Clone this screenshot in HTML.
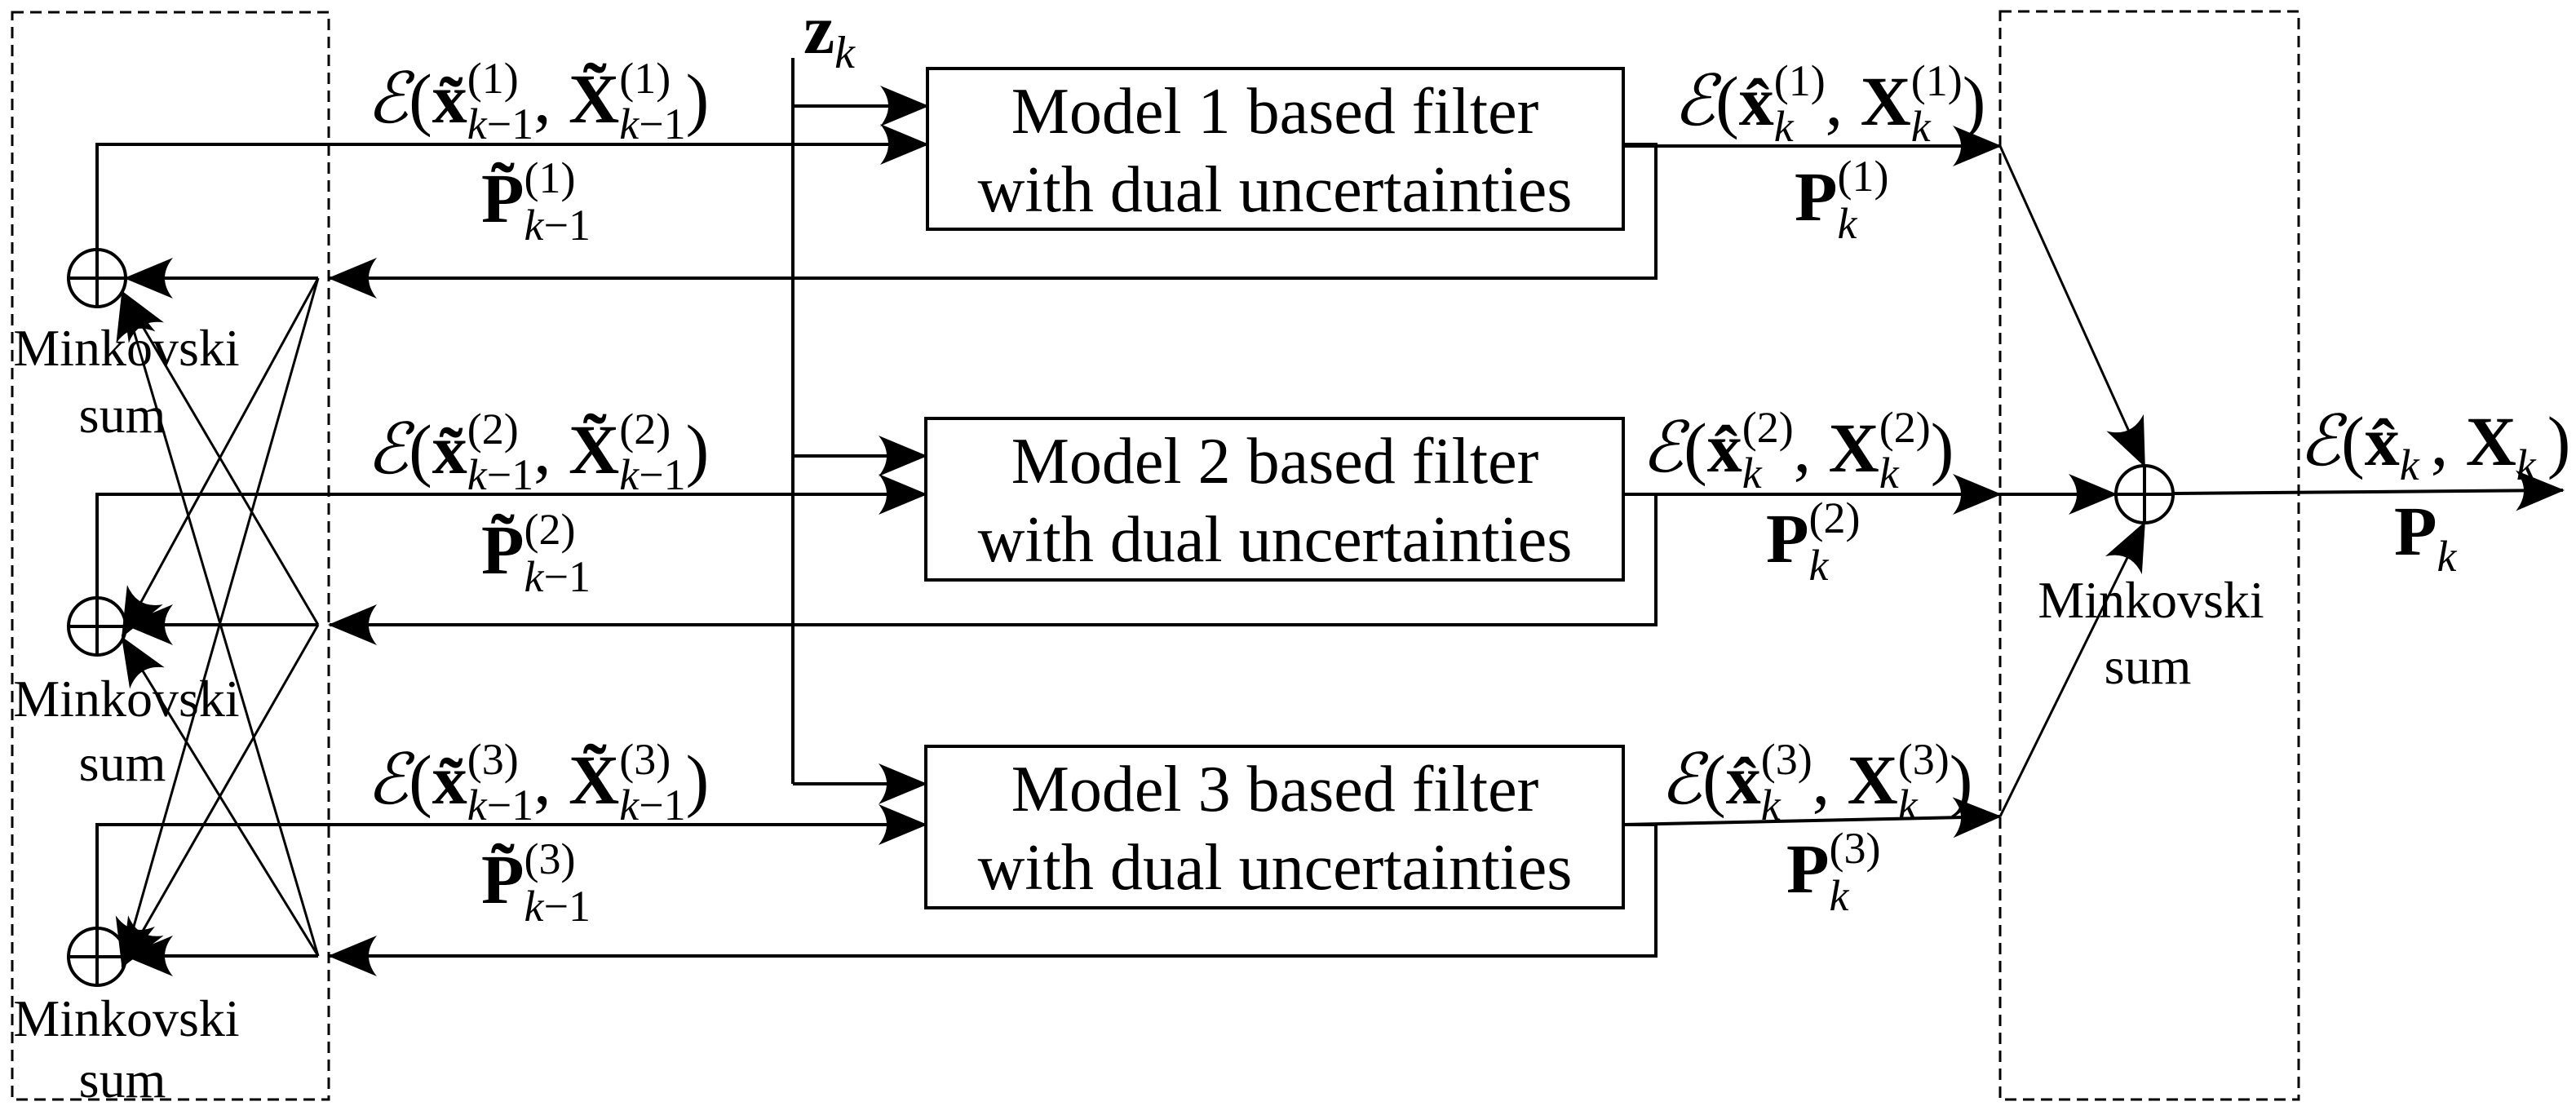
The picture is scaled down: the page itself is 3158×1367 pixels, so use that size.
<!DOCTYPE html>
<html><head><meta charset="utf-8"><style>
html,body{margin:0;padding:0;background:#fff}
svg{display:block}
text{font-family:"Liberation Serif",serif;fill:#000}
.b{font-weight:bold}
.i{font-style:italic}
</style></head><body>
<svg width="3158" height="1367" viewBox="0 0 3158 1367" xmlns="http://www.w3.org/2000/svg">
<defs>
<marker id="a" markerUnits="userSpaceOnUse" viewBox="0 0 60 50" markerWidth="60" markerHeight="50" refX="58" refY="25" orient="auto">
<path d="M0,0 Q20,25 0,50 L60,25 Z" fill="#000"/>
</marker>
</defs>
<g fill="none" stroke="#000" stroke-width="3" stroke-dasharray="14,8">
<rect x="15" y="15" width="388" height="1333"/>
<rect x="2452" y="14" width="366" height="1334"/>
</g>
<g fill="none" stroke="#000" stroke-width="4">
<rect x="1137" y="84" width="853" height="197"/>
<rect x="1135" y="513" width="855" height="198"/>
<rect x="1135" y="915" width="855" height="198"/>
<line x1="972" y1="71" x2="972" y2="961"/>
<line x1="972" y1="130" x2="1137" y2="130" marker-end="url(#a)"/>
<line x1="972" y1="559" x2="1135" y2="559" marker-end="url(#a)"/>
<line x1="972" y1="961" x2="1135" y2="961" marker-end="url(#a)"/>
<polyline points="119,305 119,177 1137,177" marker-end="url(#a)"/>
<polyline points="119,733 119,606 1135,606" marker-end="url(#a)"/>
<polyline points="119,1138 119,1011 1135,1011" marker-end="url(#a)"/>
<polyline points="1990,177 2030,177 2030,341 404,341" marker-end="url(#a)"/>
<polyline points="1990,606 2030,606 2030,766 404,766" marker-end="url(#a)"/>
<polyline points="1990,1011 2030,1011 2030,1172 404,1172" marker-end="url(#a)"/>
<line x1="390" y1="341" x2="154" y2="341" marker-end="url(#a)"/>
<line x1="390" y1="766" x2="154" y2="766" marker-end="url(#a)"/>
<line x1="390" y1="1172" x2="154" y2="1172" marker-end="url(#a)"/>
<circle cx="119" cy="341" r="35"/><line x1="84" y1="341" x2="154" y2="341"/><line x1="119" y1="306" x2="119" y2="376"/>
<circle cx="119" cy="768" r="35"/><line x1="84" y1="768" x2="154" y2="768"/><line x1="119" y1="733" x2="119" y2="803"/>
<circle cx="119" cy="1173" r="35"/><line x1="84" y1="1173" x2="154" y2="1173"/><line x1="119" y1="1138" x2="119" y2="1208"/>
<line x1="1990" y1="179" x2="2452" y2="179" marker-end="url(#a)"/>
<line x1="1990" y1="606" x2="2452" y2="606" marker-end="url(#a)"/>
<line x1="1990" y1="1011" x2="2452" y2="1001" marker-end="url(#a)"/>
<line x1="2452" y1="606" x2="2594" y2="606" marker-end="url(#a)"/>
<circle cx="2629" cy="606" r="35"/><line x1="2594" y1="606" x2="2664" y2="606"/><line x1="2629" y1="571" x2="2629" y2="641"/>
<line x1="2664" y1="605" x2="3142" y2="601" marker-end="url(#a)"/>
</g>
<g fill="none" stroke="#000" stroke-width="3">
<line x1="2452" y1="179" x2="2629" y2="571" marker-end="url(#a)"/>
<line x1="2452" y1="1001" x2="2629" y2="641" marker-end="url(#a)"/>
<line x1="390" y1="341" x2="150" y2="780" marker-end="url(#a)"/>
<line x1="390" y1="341" x2="150" y2="1185" marker-end="url(#a)"/>
<line x1="390" y1="766" x2="150" y2="358" marker-end="url(#a)"/>
<line x1="390" y1="766" x2="150" y2="1185" marker-end="url(#a)"/>
<line x1="390" y1="1172" x2="150" y2="358" marker-end="url(#a)"/>
<line x1="390" y1="1172" x2="150" y2="782" marker-end="url(#a)"/>
</g>
<g font-size="80" text-anchor="middle">
<text x="1563" y="163">Model 1 based filter</text>
<text x="1563" y="259">with dual uncertainties</text>
<text x="1563" y="592">Model 2 based filter</text>
<text x="1563" y="688">with dual uncertainties</text>
<text x="1563" y="994">Model 3 based filter</text>
<text x="1563" y="1090">with dual uncertainties</text>
</g>
<g font-size="64" text-anchor="middle">
<text x="155" y="448">Minkovski</text><text x="150" y="530">sum</text>
<text x="155" y="878">Minkovski</text><text x="150" y="957">sum</text>
<text x="155" y="1270">Minkovski</text><text x="150" y="1345">sum</text>
<text x="2637" y="757">Minkovski</text><text x="2633" y="838">sum</text>
</g>
<g font-size="86">
<text x="985" y="65" class="b">z<tspan class="i" font-weight="normal" font-size="56" dy="18">k</tspan></text>

<text x="449" y="150"><tspan class="i">ℰ</tspan>(<tspan class="b">x̃</tspan><tspan font-size="54" dy="-36">(1)</tspan><tspan font-size="54" dx="-63" dy="56" class="i">k</tspan><tspan font-size="54">−1</tspan><tspan dy="-20">, </tspan><tspan class="b">X̃</tspan><tspan font-size="54" dy="-36">(1)</tspan><tspan font-size="54" dx="-63" dy="56" class="i">k</tspan><tspan font-size="54">−1</tspan><tspan dy="-20">)</tspan></text>
<text x="590" y="272" class="b">P̃<tspan font-weight="normal" font-size="54" dy="-36">(1)</tspan><tspan font-weight="normal" font-size="54" dx="-63" dy="58" class="i">k</tspan><tspan font-weight="normal" font-size="54">−1</tspan></text>

<text x="449" y="580"><tspan class="i">ℰ</tspan>(<tspan class="b">x̃</tspan><tspan font-size="54" dy="-36">(2)</tspan><tspan font-size="54" dx="-63" dy="56" class="i">k</tspan><tspan font-size="54">−1</tspan><tspan dy="-20">, </tspan><tspan class="b">X̃</tspan><tspan font-size="54" dy="-36">(2)</tspan><tspan font-size="54" dx="-63" dy="56" class="i">k</tspan><tspan font-size="54">−1</tspan><tspan dy="-20">)</tspan></text>
<text x="590" y="703" class="b">P̃<tspan font-weight="normal" font-size="54" dy="-36">(2)</tspan><tspan font-weight="normal" font-size="54" dx="-63" dy="58" class="i">k</tspan><tspan font-weight="normal" font-size="54">−1</tspan></text>

<text x="449" y="985"><tspan class="i">ℰ</tspan>(<tspan class="b">x̃</tspan><tspan font-size="54" dy="-36">(3)</tspan><tspan font-size="54" dx="-63" dy="56" class="i">k</tspan><tspan font-size="54">−1</tspan><tspan dy="-20">, </tspan><tspan class="b">X̃</tspan><tspan font-size="54" dy="-36">(3)</tspan><tspan font-size="54" dx="-63" dy="56" class="i">k</tspan><tspan font-size="54">−1</tspan><tspan dy="-20">)</tspan></text>
<text x="590" y="1107" class="b">P̃<tspan font-weight="normal" font-size="54" dy="-36">(3)</tspan><tspan font-weight="normal" font-size="54" dx="-63" dy="58" class="i">k</tspan><tspan font-weight="normal" font-size="54">−1</tspan></text>

<text x="2051" y="153"><tspan class="i">ℰ</tspan>(<tspan class="b">x̂</tspan><tspan font-size="54" dy="-36">(1)</tspan><tspan font-size="54" dx="-63" dy="56" class="i">k</tspan><tspan dx="39" dy="-20">, </tspan><tspan class="b">X</tspan><tspan font-size="54" dy="-36">(1)</tspan><tspan font-size="54" dx="-63" dy="56" class="i">k</tspan><tspan dx="39" dy="-20">)</tspan></text>
<text x="2200" y="270" class="b">P<tspan font-weight="normal" font-size="54" dy="-36">(1)</tspan><tspan font-weight="normal" font-size="54" dx="-63" dy="58" class="i">k</tspan></text>

<text x="2012" y="578"><tspan class="i">ℰ</tspan>(<tspan class="b">x̂</tspan><tspan font-size="54" dy="-36">(2)</tspan><tspan font-size="54" dx="-63" dy="56" class="i">k</tspan><tspan dx="39" dy="-20">, </tspan><tspan class="b">X</tspan><tspan font-size="54" dy="-36">(2)</tspan><tspan font-size="54" dx="-63" dy="56" class="i">k</tspan><tspan dx="39" dy="-20">)</tspan></text>
<text x="2165" y="689" class="b">P<tspan font-weight="normal" font-size="54" dy="-36">(2)</tspan><tspan font-weight="normal" font-size="54" dx="-63" dy="58" class="i">k</tspan></text>

<text x="2035" y="985"><tspan class="i">ℰ</tspan>(<tspan class="b">x̂</tspan><tspan font-size="54" dy="-36">(3)</tspan><tspan font-size="54" dx="-63" dy="56" class="i">k</tspan><tspan dx="39" dy="-20">, </tspan><tspan class="b">X</tspan><tspan font-size="54" dy="-36">(3)</tspan><tspan font-size="54" dx="-63" dy="56" class="i">k</tspan><tspan dx="39" dy="-20">)</tspan></text>
<text x="2190" y="1094" class="b">P<tspan font-weight="normal" font-size="54" dy="-36">(3)</tspan><tspan font-weight="normal" font-size="54" dx="-63" dy="58" class="i">k</tspan></text>

<text x="2818" y="570"><tspan class="i">ℰ</tspan>(<tspan class="b">x̂</tspan><tspan font-size="54" dy="18" class="i">k</tspan><tspan dx="14" dy="-18">, </tspan><tspan class="b">X</tspan><tspan font-size="54" dy="18" class="i">k</tspan><tspan dx="14" dy="-18">)</tspan></text>
<text x="2935" y="680" class="b">P<tspan font-weight="normal" font-size="54" dy="20" class="i">k</tspan></text>
</g>
</svg>
</body></html>
